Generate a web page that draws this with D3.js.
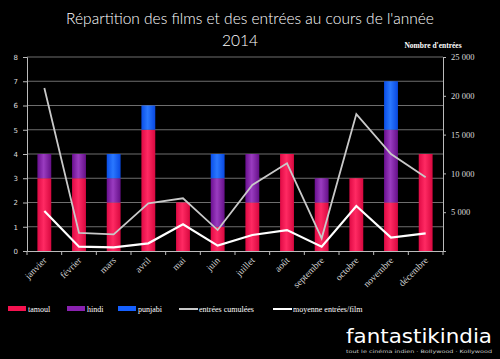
<!DOCTYPE html>
<html><head><meta charset="utf-8">
<script src="https://cdn.jsdelivr.net/npm/d3@7"></script>
<style>html,body{margin:0;padding:0;background:#000;}svg{display:block;}</style>
</head><body>
<svg id="c" width="500" height="359"></svg>
<script>
const months = ["janvier","février","mars","avril","mai","juin","juillet","août","septembre","octobre","novembre","décembre"];
const tamoul  = [3,3,2,5,2,1,2,4,2,3,2,4];
const hindi   = [1,1,1,0,0,2,2,0,1,0,3,0];
const punjabi = [0,0,1,1,0,1,0,0,0,0,2,0];
const entreesCumulees = [21000,2320,2150,6140,6790,2700,8500,11300,1630,17650,12500,9500];
const moyenneParFilm  = [5150,560,470,990,3440,690,2060,2700,560,5800,1720,2280];
const leftTicks = [0,1,2,3,4,5,6,7,8];
const rightTicks = [0,5000,10000,15000,20000,25000];
const seriesNames = ["tamoul","hindi","punjabi"];

const svg = d3.select("#c");
const L=27,R=443,T=57,B=251;
const x = d3.scaleBand().domain(months).range([L,R]).paddingInner(0.6).paddingOuter(0.3);
const xb = d3.scaleBand().domain(months).range([L,R]);
const y = d3.scaleLinear().domain([0,8]).range([B,T]);
const y2 = d3.scaleLinear().domain([0,25000]).range([B,T]);

const defs = svg.append("defs");
function grad(id, stops){
  const g = defs.append("linearGradient").attr("id",id).attr("x1","0").attr("x2","1").attr("y1","0").attr("y2","0");
  stops.forEach(([o,c])=>g.append("stop").attr("offset",o).attr("stop-color",c));
}
grad("gT",[[0,"#e00a45"],[0.45,"#ff2a63"],[1,"#d8083f"]]);
grad("gH",[[0,"#6a1090"],[0.45,"#9a3cc0"],[1,"#651088"]]);
grad("gP",[[0,"#0a4ee8"],[0.45,"#2a78ff"],[1,"#0848e0"]]);
const fills = {tamoul:"url(#gT)",hindi:"url(#gH)",punjabi:"url(#gP)"};
const solid = {tamoul:"#f5124f",hindi:"#8a22b0",punjabi:"#1560ff"};

// title
svg.append("text").attr("x",250).attr("y",24).attr("text-anchor","middle").attr("fill","#fff")
  .attr("font-family","Lato, 'DejaVu Sans', sans-serif").attr("font-weight",300).attr("font-size",15.5).text("Répartition des films et des entrées au cours de l'année");
svg.append("text").attr("x",240).attr("y",46).attr("text-anchor","middle").attr("fill","#fff")
  .attr("font-family","Lato, 'DejaVu Sans', sans-serif").attr("font-weight",300).attr("font-size",15.5).text("2014");
svg.append("text").attr("x",433).attr("y",48).attr("text-anchor","middle").attr("fill","#ffffff")
  .attr("font-family","'Liberation Serif', serif").attr("font-weight","bold").attr("font-size",7.5).text("Nombre d'entrées");

// gridlines
svg.append("g").selectAll("line").data(leftTicks.filter(d=>d>0)).join("line")
  .attr("x1",L).attr("x2",R).attr("y1",d=>y(d)).attr("y2",d=>y(d))
  .attr("stroke","#8a8a8a").attr("stroke-width",0.8);

// bars
const data = months.map((m,i)=>({month:m,tamoul:tamoul[i],hindi:hindi[i],punjabi:punjabi[i]}));
const stack = d3.stack().keys(seriesNames)(data);
svg.append("g").selectAll("g").data(stack).join("g").attr("fill",d=>fills[d.key])
  .selectAll("rect").data(d=>d.filter(e=>e[1]>e[0])).join("rect")
  .attr("x",d=>x(d.data.month)).attr("width",x.bandwidth())
  .attr("y",d=>y(d[1])).attr("height",d=>y(d[0])-y(d[1]));

// axes
const ax = svg.append("g").attr("font-family","'Liberation Serif', serif");
const ya = ax.append("g").attr("transform",`translate(${L},0)`).call(d3.axisLeft(y).tickValues(leftTicks).tickSize(4).tickPadding(5));
const ya2 = ax.append("g").attr("transform",`translate(${R},0)`).call(d3.axisRight(y2).tickValues(rightTicks).tickFormat(d=>d===0?"":d3.format(",")(d).replace(/,/g," ")).tickSize(3).tickPadding(5));
const xa = ax.append("g").attr("transform",`translate(0,${B})`).call(d3.axisBottom(xb).tickSize(0).tickFormat(""));
xa.selectAll(".tick").remove();
xa.append("g").selectAll("line").data(d3.range(0,13)).join("line")
  .attr("x1",i=>L+i*xb.step()).attr("x2",i=>L+i*xb.step()).attr("y1",0).attr("y2",4).attr("stroke","#bbb");
[ya,ya2,xa].forEach(g=>{g.selectAll(".domain").attr("stroke","#bbb");g.selectAll(".tick line").attr("stroke","#bbb");
  g.selectAll("text").attr("fill","#ddd").attr("font-size",8);});
ya.selectAll("text").attr("font-family","'DejaVu Sans', sans-serif").attr("font-size",7);
ya2.selectAll("text").attr("font-family","'Liberation Serif', serif").attr("font-size",8.5);

// x labels
svg.append("g").selectAll("text").data(months).join("text")
  .attr("transform",d=>`translate(${xb(d)+xb.bandwidth()/2+3},${B+10}) rotate(-45)`)
  .attr("text-anchor","end").attr("fill","#d0d0d0").attr("font-family","'Liberation Serif', serif").attr("font-size",9.5).text(d=>d);

// lines
const lx = m=>xb(m)+xb.bandwidth()/2;
svg.append("path").datum(entreesCumulees).attr("fill","none").attr("stroke","#c9c9c9").attr("stroke-width",1.8)
  .attr("d",d3.line().x((d,i)=>lx(months[i])).y(d=>y2(d)));
svg.append("path").datum(moyenneParFilm).attr("fill","none").attr("stroke","#fff").attr("stroke-width",2.2)
  .attr("d",d3.line().x((d,i)=>lx(months[i])).y(d=>y2(d)));

// legend
const lg = svg.append("g").attr("font-family","'Liberation Serif', serif").attr("font-size",8).attr("fill","#fff");
const items = [
  {name:"tamoul",x:8,type:"rect",c:solid.tamoul},
  {name:"hindi",x:67,type:"rect",c:solid.hindi},
  {name:"punjabi",x:118,type:"rect",c:solid.punjabi},
  {name:"entrées cumulées",x:179,type:"line",c:"#c9c9c9"},
  {name:"moyenne entrées/film",x:273,type:"line",c:"#fff"}
];
items.forEach(it=>{
  if(it.type==="rect") lg.append("rect").attr("x",it.x).attr("y",306).attr("width",18).attr("height",5).attr("fill",it.c);
  else lg.append("line").attr("x1",it.x).attr("x2",it.x+19).attr("y1",309).attr("y2",309).attr("stroke",it.c).attr("stroke-width",2);
  lg.append("text").attr("x",it.x+20).attr("y",311.5).text(it.name);
});

// logo
svg.append("text").attr("x",419).attr("y",343).attr("text-anchor","middle").attr("fill","#fff")
  .attr("font-family","'DejaVu Sans', sans-serif").attr("font-size",20).attr("textLength",146).attr("lengthAdjust","spacingAndGlyphs").text("fantastikindia");
svg.append("text").attr("x",419).attr("y",353).attr("text-anchor","middle").attr("fill","#ccc")
  .attr("font-family","'DejaVu Sans', sans-serif").attr("font-size",4.5).attr("textLength",146).attr("lengthAdjust","spacingAndGlyphs").text("tout le cinéma indien · Bollywood · Kollywood");
</script>
</body></html>
